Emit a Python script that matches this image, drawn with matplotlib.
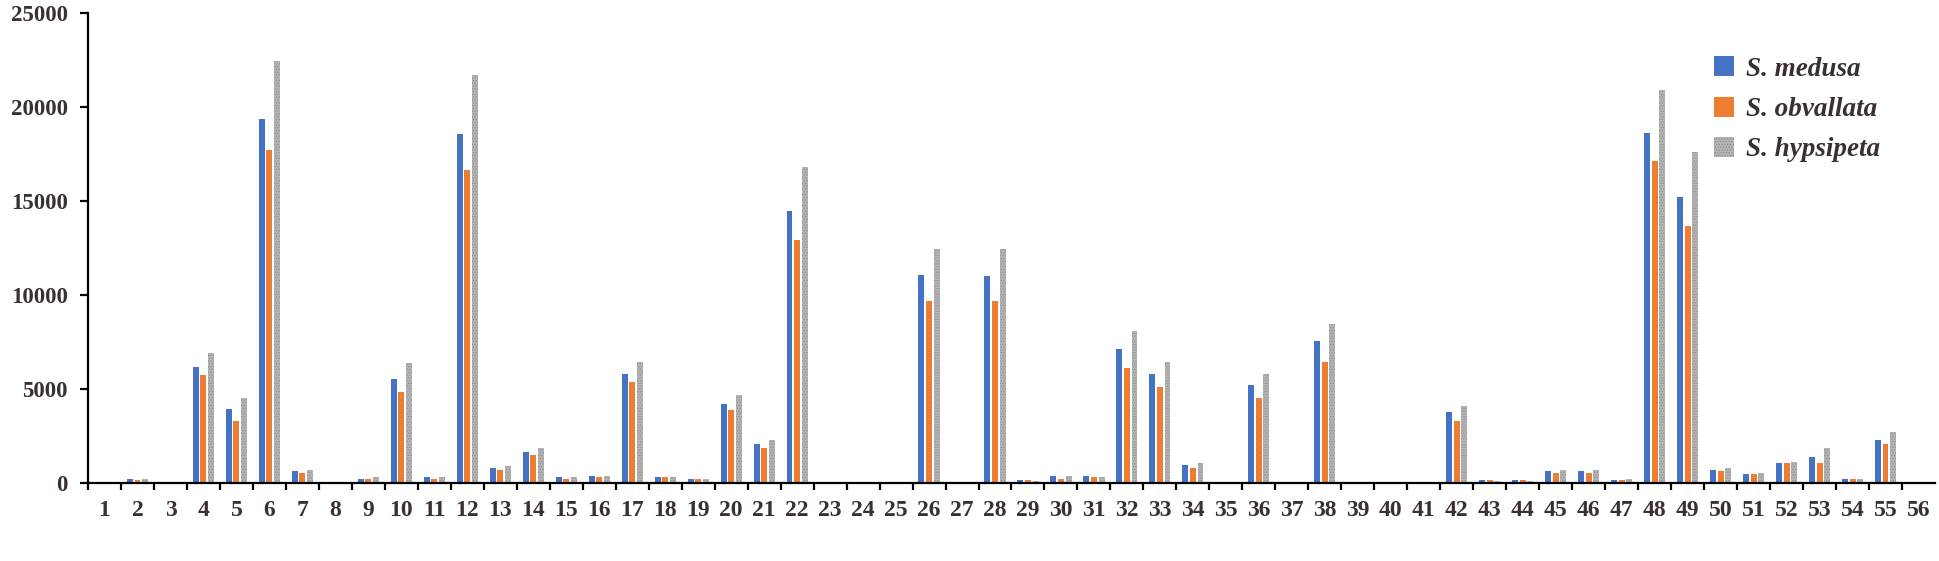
import numpy as np
import matplotlib.pyplot as plt

categories = list(range(1, 57))

# values
medusa = [0, 220, 0, 6200, 3970, 19400, 670, 0, 230, 5550,
          335, 18580, 810, 1650, 320, 400, 5800, 320, 230, 4220,
          2070, 14500, 0, 0, 0, 11100, 0, 11030, 160, 400,
          400, 7130, 5800, 970, 0, 5210, 0, 7550, 0, 0,
          0, 3810, 160, 160, 650, 650, 160, 18650, 15250, 720,
          480, 1060, 1400, 230, 2300, 0]
obvallata = [0, 150, 0, 5780, 3300, 17730, 560, 0, 230, 4870,
             230, 16670, 720, 1490, 230, 320, 5390, 320, 230, 3880,
             1890, 12940, 0, 0, 0, 9700, 0, 9700, 160, 230,
             320, 6130, 5140, 810, 0, 4550, 0, 6470, 0, 0,
             0, 3310, 160, 160, 560, 560, 160, 17160, 13690, 650,
             480, 1060, 1060, 230, 2070, 0]
hypsipeta = [0, 230, 0, 6950, 4540, 22450, 720, 0, 320, 6380,
             335, 21720, 900, 1890, 320, 400, 6470, 320, 230, 4710,
             2300, 16840, 0, 0, 0, 12450, 0, 12450, 130, 400,
             320, 8120, 6470, 1060, 0, 5800, 0, 8460, 0, 0,
             0, 4130, 130, 130, 720, 720, 230, 20900, 17640, 810,
             560, 1150, 1890, 230, 2730, 0]

text_col = "#3b3030"
plt.rcParams["font.family"] = ["Liberation Serif", "DejaVu Serif"]
plt.rcParams["hatch.linewidth"] = 0.6

fig = plt.figure(figsize=(19.4, 5.61), dpi=100)
ax = fig.add_axes([88 / 1940, 1 - 483.3 / 561, (1935 - 88) / 1940, (483.3 - 13.3) / 561])

x = np.array(categories)
w = 0.18
step = 0.23
ax.bar(x - step, medusa, w, color="#4472C4", label="S. medusa")
ax.bar(x, obvallata, w, color="#ED7D31", label="S. obvallata")
ax.bar(x + step, hypsipeta, w, facecolor="#b4b4b4", edgecolor="#8e8e8e",
       linewidth=0, hatch="......", label="S. hypsipeta")

ax.set_xlim(0.5, 56.5)
ax.set_ylim(0, 25000)
ax.set_yticks(np.arange(0, 25001, 5000))

# category boundaries as tick marks, labels at centres
ax.set_xticks(np.arange(0.5, 56.5, 1.0))
ax.set_xticklabels([])
ax.set_xticks(x, minor=True)
ax.set_xticklabels([str(c) for c in categories], minor=True)
ax.tick_params(axis="x", which="major", direction="out", length=5, width=1.6, color="black")
ax.tick_params(axis="x", which="minor", length=0, pad=12, labelsize=17, labelcolor=text_col)
ax.tick_params(axis="y", direction="out", length=5.5, width=1.6, pad=9, labelsize=16.5, labelcolor=text_col)
for lab in ax.get_xticklabels(minor=True) + ax.get_yticklabels():
    lab.set_fontweight("bold")

for side in ("top", "right"):
    ax.spines[side].set_visible(False)
for side in ("left", "bottom"):
    ax.spines[side].set_linewidth(1.6)

leg = ax.legend(loc="upper left", bbox_to_anchor=(0.867, 0.96), frameon=False,
                handlelength=0.75, handleheight=0.75, handletextpad=0.45, labelspacing=0.55,
                prop={"family": ["Liberation Serif"], "style": "italic", "weight": "bold", "size": 19.5})
for t in leg.get_texts():
    t.set_color(text_col)

fig.savefig("out.png", dpi=100)
